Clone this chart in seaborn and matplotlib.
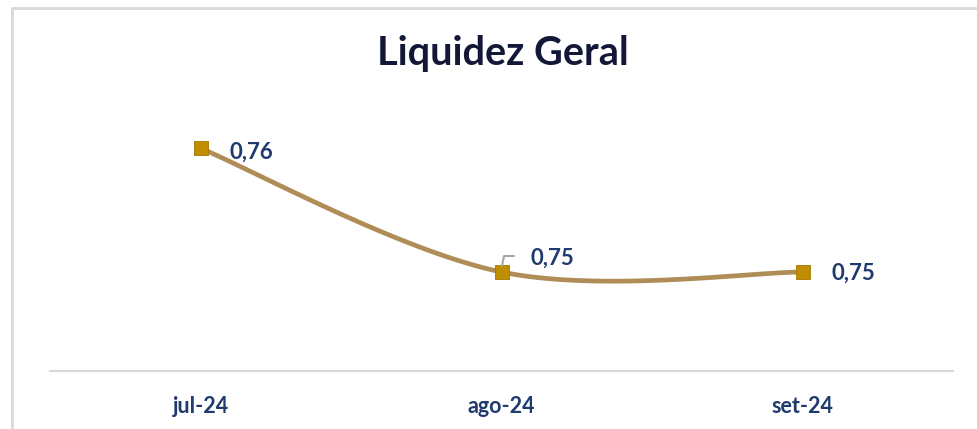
import numpy as np
import pandas as pd
import matplotlib
matplotlib.use("Agg")
import matplotlib.pyplot as plt
import seaborn as sns
from matplotlib.lines import Line2D

categories = ["jul-24", "ago-24", "set-24"]
values = [0.758, 0.748, 0.748]
labels = ["0,76", "0,75", "0,75"]
title = "Liquidez Geral"

sns.set_theme(style="white")
plt.rcParams['font.family'] = ['Lato', 'DejaVu Sans']

LINE = "#B08D57"
MARK = "#C08E00"
NAVY = "#1F3A6E"
TITLE = "#141838"

df = pd.DataFrame({"cat": categories, "val": values, "x": range(len(categories))})

fig = plt.figure(figsize=(9.77, 4.29), dpi=100)
ax = fig.add_axes([50/977, 1-371/429, 903/977, 271/429])

# smoothed line (Catmull-Rom / Bezier like spreadsheet smoothing)
xs = df["x"].to_numpy(float)
ys = df["val"].to_numpy(float)
pts = np.column_stack([xs, ys])
curve = []
n = len(pts)
for i in range(n - 1):
    p0 = pts[i - 1] if i > 0 else pts[i]
    p1 = pts[i]
    p2 = pts[i + 1]
    p3 = pts[i + 2] if i + 2 < n else pts[i + 1]
    c1 = p1 + (p2 - p0) / 6
    c2 = p2 - (p3 - p1) / 6
    t = np.linspace(0, 1, 60)[:, None]
    seg = (1-t)**3*p1 + 3*(1-t)**2*t*c1 + 3*(1-t)*t**2*c2 + t**3*p2
    curve.append(seg)
curve = np.vstack(curve)
sm = pd.DataFrame({"x": curve[:, 0], "y": curve[:, 1]})
sns.lineplot(data=sm, x="x", y="y", sort=False, color=LINE, linewidth=3.4, ax=ax, zorder=2)
sns.scatterplot(data=df, x="x", y="val", marker="s", s=100, color=MARK,
                edgecolor="#A07800", linewidth=0.6, ax=ax, zorder=3)

ax.set_xlim(-0.5, 2.5)
ax.set_ylim(0.74, 0.7619)

# data labels
ax.annotate(labels[0], (0, values[0]), xytext=(21, -3), textcoords="offset points",
            ha="left", va="center", fontsize=16, fontweight="bold", color=NAVY)
ax.annotate(labels[1], (1, values[1]), xytext=(21, 10), textcoords="offset points",
            ha="left", va="center", fontsize=16, fontweight="bold", color=NAVY)
ax.annotate(labels[2], (2, values[2]), xytext=(21, -1), textcoords="offset points",
            ha="left", va="center", fontsize=16, fontweight="bold", color=NAVY)
# leader line for middle label
fig.add_artist(Line2D([502/977, 504/977, 514/977], [1-266/429, 1-256/429, 1-256/429],
                      color="#A6A6A6", linewidth=1.5))

ax.set_xticks(df["x"])
ax.set_xticklabels(categories, fontsize=15.5, fontweight="bold", color=NAVY)
ax.tick_params(axis="x", length=0, pad=18)
ax.set_yticks([])
ax.set_xlabel("")
ax.set_ylabel("")
for s in ["top", "right", "left"]:
    ax.spines[s].set_visible(False)
ax.spines["bottom"].set_color("#D9D9D9")
ax.spines["bottom"].set_linewidth(1.5)
ax.patch.set_alpha(0)

fig.text(503/977, 1-53/429, title, ha="center", va="center", fontsize=28.5,
         fontweight="bold", color=TITLE)

# outer chart border (top and left)
fig.add_artist(Line2D([12/977, 1.0], [1-8/429, 1-8/429], color="#D9D9D9", linewidth=2))
fig.add_artist(Line2D([12/977, 12/977], [0, 1-8/429], color="#D9D9D9", linewidth=2))

fig.savefig("out.png", dpi=100)
